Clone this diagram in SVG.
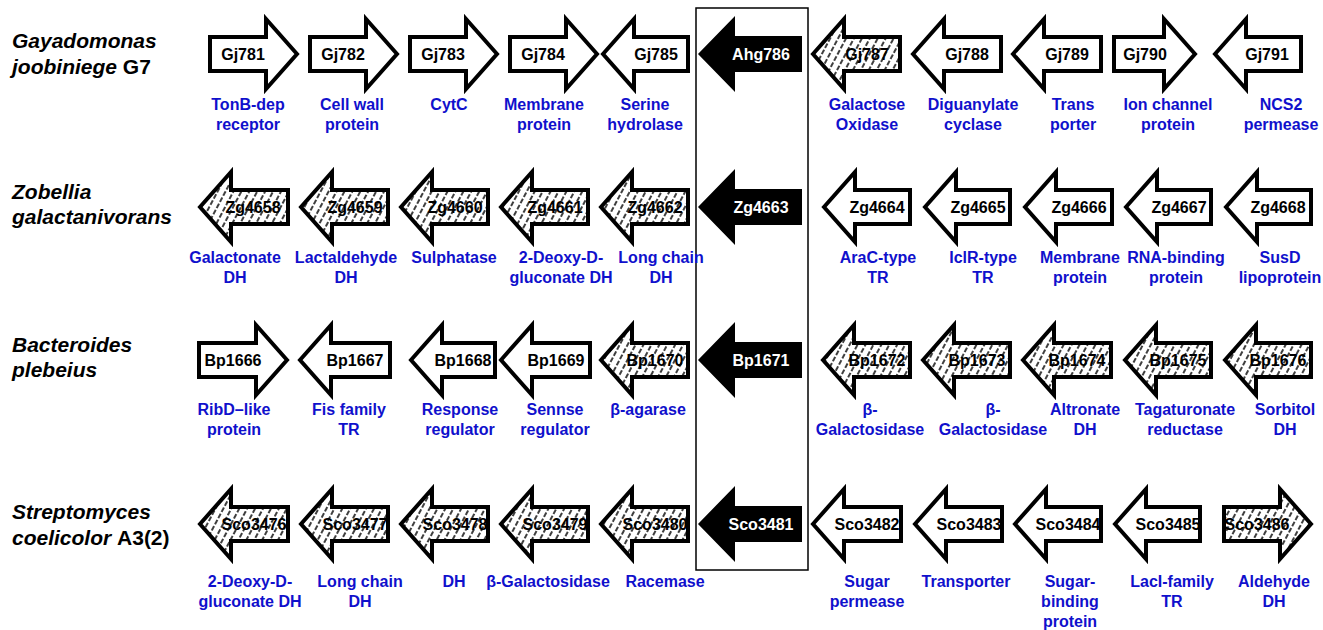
<svg xmlns="http://www.w3.org/2000/svg" width="1323" height="630" viewBox="0 0 1323 630">
<style>
.w{fill:#fff;stroke:#000;stroke-width:4}
.hb{fill:#fff;stroke:none}
.h{fill:url(#hatch);stroke:#000;stroke-width:4}
.b{fill:#000;stroke:none}
.t{font-family:"Liberation Sans",Arial,sans-serif;font-weight:bold;font-size:16px;text-anchor:middle;fill:#000}
.tw{fill:#fff}
.lb{font-family:"Liberation Sans",Arial,sans-serif;font-weight:bold;font-size:16px;text-anchor:middle;fill:#1010CC}
.sp{font-family:"Liberation Sans",Arial,sans-serif;font-weight:bold;font-style:italic;font-size:21px;fill:#000}
.up{font-style:normal}
</style>
<defs>
<pattern id="hatch" width="7" height="14" patternUnits="userSpaceOnUse" patternTransform="rotate(28)">
<line x1="2" y1="0" x2="2" y2="14" stroke="#000" stroke-width="1.5" stroke-dasharray="5 2"/>
</pattern>
</defs>
<rect id="focus-box" x="696" y="8" width="112" height="562" fill="none" stroke="#000" stroke-width="1.5"/>

<g id="species">
<text class="sp" x="12" y="48">Gayadomonas</text>
<text class="sp" x="12" y="74">joobiniege <tspan class="up">G7</tspan></text>
<text class="sp" x="12" y="199">Zobellia</text>
<text class="sp" x="12" y="224">galactanivorans</text>
<text class="sp" x="12" y="352">Bacteroides</text>
<text class="sp" x="12" y="377">plebeius</text>
<text class="sp" x="12" y="519">Streptomyces</text>
<text class="sp" x="12" y="545">coelicolor <tspan class="up">A3(2)</tspan></text>
</g>

<!-- Row 1 -->
<g id="Gj781"><path class="w" d="M297,54 L266,19 V37 H210 V71 H266 V89 Z"/><text class="t" x="243" y="60">Gj781</text></g>
<g id="Gj782"><path class="w" d="M397,54 L366,19 V37 H310 V71 H366 V89 Z"/><text class="t" x="343" y="60">Gj782</text></g>
<g id="Gj783"><path class="w" d="M497,54 L466,19 V37 H410 V71 H466 V89 Z"/><text class="t" x="443" y="60">Gj783</text></g>
<g id="Gj784"><path class="w" d="M597,54 L566,19 V37 H510 V71 H566 V89 Z"/><text class="t" x="543" y="60">Gj784</text></g>
<g id="Gj785"><path class="w" d="M603,54 L634,19 V37 H688 V71 H634 V89 Z"/><text class="t" x="656" y="60">Gj785</text></g>
<g id="Ahg786"><path class="b" d="M698,54 L735,16 V36 H802 V72 H735 V92 Z"/><text class="t tw" x="761" y="60">Ahg786</text></g>
<g id="Gj787"><path class="hb" d="M813,54 L844,19 V37 H900 V71 H844 V89 Z"/><text class="t" x="867" y="60">Gj787</text><path class="h" d="M813,54 L844,19 V37 H900 V71 H844 V89 Z"/></g>
<g id="Gj788"><path class="w" d="M913,54 L944,19 V37 H1001 V71 H944 V89 Z"/><text class="t" x="967" y="60">Gj788</text></g>
<g id="Gj789"><path class="w" d="M1013,54 L1044,19 V37 H1101 V71 H1044 V89 Z"/><text class="t" x="1067" y="60">Gj789</text></g>
<g id="Gj790"><path class="w" d="M1195,54 L1164,19 V37 H1114 V71 H1164 V89 Z"/><text class="t" x="1145" y="60">Gj790</text></g>
<g id="Gj791"><path class="w" d="M1215,54 L1246,19 V37 H1301 V71 H1246 V89 Z"/><text class="t" x="1267" y="60">Gj791</text></g>

<g id="labels-row1">
<text class="lb" x="248" y="110">TonB-dep<tspan x="248" y="130">receptor</tspan></text>
<text class="lb" x="352" y="110">Cell wall<tspan x="352" y="130">protein</tspan></text>
<text class="lb" x="449" y="110">CytC</text>
<text class="lb" x="544" y="110">Membrane<tspan x="544" y="130">protein</tspan></text>
<text class="lb" x="645" y="110">Serine<tspan x="645" y="130">hydrolase</tspan></text>
<text class="lb" x="867" y="110">Galactose<tspan x="867" y="130">Oxidase</tspan></text>
<text class="lb" x="973" y="110">Diguanylate<tspan x="973" y="130">cyclase</tspan></text>
<text class="lb" x="1073" y="110">Trans<tspan x="1073" y="130">porter</tspan></text>
<text class="lb" x="1168" y="110">Ion channel<tspan x="1168" y="130">protein</tspan></text>
<text class="lb" x="1281" y="110">NCS2<tspan x="1281" y="130">permease</tspan></text>
</g>

<!-- Row 2 -->
<g id="Zg4658"><path class="hb" d="M200,207 L231,172 V190 H288 V224 H231 V242 Z"/><text class="t" x="253" y="213">Zg4658</text><path class="h" d="M200,207 L231,172 V190 H288 V224 H231 V242 Z"/></g>
<g id="Zg4659"><path class="hb" d="M301,207 L332,172 V190 H388 V224 H332 V242 Z"/><text class="t" x="355" y="213">Zg4659</text><path class="h" d="M301,207 L332,172 V190 H388 V224 H332 V242 Z"/></g>
<g id="Zg4660"><path class="hb" d="M401,207 L432,172 V190 H488 V224 H432 V242 Z"/><text class="t" x="455" y="213">Zg4660</text><path class="h" d="M401,207 L432,172 V190 H488 V224 H432 V242 Z"/></g>
<g id="Zg4661"><path class="hb" d="M501,207 L532,172 V190 H588 V224 H532 V242 Z"/><text class="t" x="555" y="213">Zg4661</text><path class="h" d="M501,207 L532,172 V190 H588 V224 H532 V242 Z"/></g>
<g id="Zg4662"><path class="hb" d="M601,207 L632,172 V190 H688 V224 H632 V242 Z"/><text class="t" x="655" y="213">Zg4662</text><path class="h" d="M601,207 L632,172 V190 H688 V224 H632 V242 Z"/></g>
<g id="Zg4663"><path class="b" d="M698,207 L735,169 V189 H802 V225 H735 V245 Z"/><text class="t tw" x="761" y="213">Zg4663</text></g>
<g id="Zg4664"><path class="w" d="M824,207 L855,172 V190 H910 V224 H855 V242 Z"/><text class="t" x="877" y="213">Zg4664</text></g>
<g id="Zg4665"><path class="w" d="M925,207 L956,172 V190 H1010 V224 H956 V242 Z"/><text class="t" x="978" y="213">Zg4665</text></g>
<g id="Zg4666"><path class="w" d="M1025,207 L1056,172 V190 H1112 V224 H1056 V242 Z"/><text class="t" x="1079" y="213">Zg4666</text></g>
<g id="Zg4667"><path class="w" d="M1126,207 L1157,172 V190 H1211 V224 H1157 V242 Z"/><text class="t" x="1179" y="213">Zg4667</text></g>
<g id="Zg4668"><path class="w" d="M1226,207 L1257,172 V190 H1311 V224 H1257 V242 Z"/><text class="t" x="1278" y="213">Zg4668</text></g>

<g id="labels-row2">
<text class="lb" x="235" y="263">Galactonate<tspan x="235" y="283">DH</tspan></text>
<text class="lb" x="346" y="263">Lactaldehyde<tspan x="346" y="283">DH</tspan></text>
<text class="lb" x="454" y="263">Sulphatase</text>
<text class="lb" x="561" y="263">2-Deoxy-D-<tspan x="561" y="283">gluconate DH</tspan></text>
<text class="lb" x="661" y="263">Long chain<tspan x="661" y="283">DH</tspan></text>
<text class="lb" x="878" y="263">AraC-type<tspan x="878" y="283">TR</tspan></text>
<text class="lb" x="983" y="263">IclR-type<tspan x="983" y="283">TR</tspan></text>
<text class="lb" x="1080" y="263">Membrane<tspan x="1080" y="283">protein</tspan></text>
<text class="lb" x="1176" y="263">RNA-binding<tspan x="1176" y="283">protein</tspan></text>
<text class="lb" x="1280" y="263">SusD<tspan x="1280" y="283">lipoprotein</tspan></text>
</g>

<!-- Row 3 -->
<g id="Bp1666"><path class="w" d="M287,360 L256,325 V343 H199 V377 H256 V395 Z"/><text class="t" x="233" y="366">Bp1666</text></g>
<g id="Bp1667"><path class="w" d="M300,360 L331,325 V343 H390 V377 H331 V395 Z"/><text class="t" x="355" y="366">Bp1667</text></g>
<g id="Bp1668"><path class="w" d="M411,360 L442,325 V343 H495 V377 H442 V395 Z"/><text class="t" x="463" y="366">Bp1668</text></g>
<g id="Bp1669"><path class="w" d="M501,360 L532,325 V343 H590 V377 H532 V395 Z"/><text class="t" x="556" y="366">Bp1669</text></g>
<g id="Bp1670"><path class="hb" d="M601,360 L632,325 V343 H688 V377 H632 V395 Z"/><text class="t" x="655" y="366">Bp1670</text><path class="h" d="M601,360 L632,325 V343 H688 V377 H632 V395 Z"/></g>
<g id="Bp1671"><path class="b" d="M698,360 L735,322 V342 H802 V378 H735 V398 Z"/><text class="t tw" x="761" y="366">Bp1671</text></g>
<g id="Bp1672"><path class="hb" d="M823,360 L854,325 V343 H910 V377 H854 V395 Z"/><text class="t" x="877" y="366">Bp1672</text><path class="h" d="M823,360 L854,325 V343 H910 V377 H854 V395 Z"/></g>
<g id="Bp1673"><path class="hb" d="M923,360 L954,325 V343 H1010 V377 H954 V395 Z"/><text class="t" x="977" y="366">Bp1673</text><path class="h" d="M923,360 L954,325 V343 H1010 V377 H954 V395 Z"/></g>
<g id="Bp1674"><path class="hb" d="M1023,360 L1054,325 V343 H1111 V377 H1054 V395 Z"/><text class="t" x="1077" y="366">Bp1674</text><path class="h" d="M1023,360 L1054,325 V343 H1111 V377 H1054 V395 Z"/></g>
<g id="Bp1675"><path class="hb" d="M1125,360 L1156,325 V343 H1211 V377 H1156 V395 Z"/><text class="t" x="1178" y="366">Bp1675</text><path class="h" d="M1125,360 L1156,325 V343 H1211 V377 H1156 V395 Z"/></g>
<g id="Bp1676"><path class="hb" d="M1225,360 L1256,325 V343 H1311 V377 H1256 V395 Z"/><text class="t" x="1278" y="366">Bp1676</text><path class="h" d="M1225,360 L1256,325 V343 H1311 V377 H1256 V395 Z"/></g>

<g id="labels-row3">
<text class="lb" x="234" y="415">RibD–like<tspan x="234" y="435">protein</tspan></text>
<text class="lb" x="349" y="415">Fis family<tspan x="349" y="435">TR</tspan></text>
<text class="lb" x="460" y="415">Response<tspan x="460" y="435">regulator</tspan></text>
<text class="lb" x="555" y="415">Sennse<tspan x="555" y="435">regulator</tspan></text>
<text class="lb" x="648" y="415">β-agarase</text>
<text class="lb" x="870" y="415">β-<tspan x="870" y="435">Galactosidase</tspan></text>
<text class="lb" x="993" y="415">β-<tspan x="993" y="435">Galactosidase</tspan></text>
<text class="lb" x="1085" y="415">Altronate<tspan x="1085" y="435">DH</tspan></text>
<text class="lb" x="1185" y="415">Tagaturonate<tspan x="1185" y="435">reductase</tspan></text>
<text class="lb" x="1285" y="415">Sorbitol<tspan x="1285" y="435">DH</tspan></text>
</g>

<!-- Row 4 -->
<g id="Sco3476"><path class="hb" d="M200,524 L231,489 V507 H288 V541 H231 V559 Z"/><text class="t" x="254" y="530">Sco3476</text><path class="h" d="M200,524 L231,489 V507 H288 V541 H231 V559 Z"/></g>
<g id="Sco3477"><path class="hb" d="M301,524 L332,489 V507 H388 V541 H332 V559 Z"/><text class="t" x="355" y="530">Sco3477</text><path class="h" d="M301,524 L332,489 V507 H388 V541 H332 V559 Z"/></g>
<g id="Sco3478"><path class="hb" d="M401,524 L432,489 V507 H488 V541 H432 V559 Z"/><text class="t" x="455" y="530">Sco3478</text><path class="h" d="M401,524 L432,489 V507 H488 V541 H432 V559 Z"/></g>
<g id="Sco3479"><path class="hb" d="M501,524 L532,489 V507 H588 V541 H532 V559 Z"/><text class="t" x="555" y="530">Sco3479</text><path class="h" d="M501,524 L532,489 V507 H588 V541 H532 V559 Z"/></g>
<g id="Sco3480"><path class="hb" d="M601,524 L632,489 V507 H688 V541 H632 V559 Z"/><text class="t" x="655" y="530">Sco3480</text><path class="h" d="M601,524 L632,489 V507 H688 V541 H632 V559 Z"/></g>
<g id="Sco3481"><path class="b" d="M698,524 L735,486 V506 H802 V542 H735 V562 Z"/><text class="t tw" x="761" y="530">Sco3481</text></g>
<g id="Sco3482"><path class="w" d="M813,524 L844,489 V507 H901 V541 H844 V559 Z"/><text class="t" x="867" y="530">Sco3482</text></g>
<g id="Sco3483"><path class="w" d="M915,524 L946,489 V507 H1002 V541 H946 V559 Z"/><text class="t" x="969" y="530">Sco3483</text></g>
<g id="Sco3484"><path class="w" d="M1015,524 L1046,489 V507 H1101 V541 H1046 V559 Z"/><text class="t" x="1068" y="530">Sco3484</text></g>
<g id="Sco3485"><path class="w" d="M1115,524 L1146,489 V507 H1200 V541 H1146 V559 Z"/><text class="t" x="1168" y="530">Sco3485</text></g>
<g id="Sco3486"><path class="hb" d="M1311,524 L1280,489 V507 H1224 V541 H1280 V559 Z"/><text class="t" x="1257" y="530">Sco3486</text><path class="h" d="M1311,524 L1280,489 V507 H1224 V541 H1280 V559 Z"/></g>

<g id="labels-row4">
<text class="lb" x="250" y="587">2-Deoxy-D-<tspan x="250" y="607">gluconate DH</tspan></text>
<text class="lb" x="360" y="587">Long chain<tspan x="360" y="607">DH</tspan></text>
<text class="lb" x="454" y="587">DH</text>
<text class="lb" x="548" y="587">β-Galactosidase</text>
<text class="lb" x="665" y="587">Racemase</text>
<text class="lb" x="867" y="587">Sugar<tspan x="867" y="607">permease</tspan></text>
<text class="lb" x="966" y="587">Transporter</text>
<text class="lb" x="1070" y="587">Sugar-<tspan x="1070" y="607">binding</tspan><tspan x="1070" y="627">protein</tspan></text>
<text class="lb" x="1172" y="587">LacI-family<tspan x="1172" y="607">TR</tspan></text>
<text class="lb" x="1274" y="587">Aldehyde<tspan x="1274" y="607">DH</tspan></text>
</g>
</svg>
